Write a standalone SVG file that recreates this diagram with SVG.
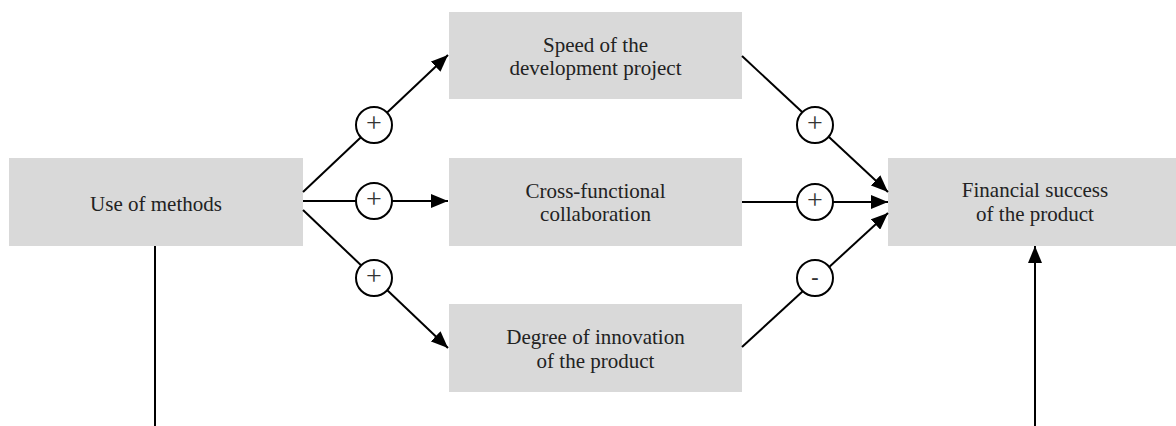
<svg xmlns="http://www.w3.org/2000/svg" width="1176" height="426" viewBox="0 0 1176 426">
  <style>
    .box { fill: #d9d9d9; }
    .lbl { font-family: "Liberation Serif", "Times New Roman", serif; font-size: 21px; fill: #222; text-anchor: middle; }
    .edge { stroke: #000; stroke-width: 2; fill: none; }
    .sign { fill: #fff; stroke: #000; stroke-width: 2; }
    .sym { font-family: "Liberation Serif", "Times New Roman", serif; fill: #333; text-anchor: middle; }
  </style>
  <defs>
    <marker id="arrow" markerUnits="userSpaceOnUse" markerWidth="17" markerHeight="14" refX="17" refY="7" orient="auto">
      <path d="M0,0 L17,7 L0,14 z" fill="#000"/>
    </marker>
  </defs>

  <g id="node-methods">
    <rect class="box" x="9" y="158" width="294" height="88"/>
    <text class="lbl" x="156" y="211">Use of methods</text>
  </g>
  <g id="node-speed">
    <rect class="box" x="449" y="12" width="293" height="87"/>
    <text class="lbl" x="595.5" y="52">Speed of the</text>
    <text class="lbl" x="595.5" y="75">development project</text>
  </g>
  <g id="node-collab">
    <rect class="box" x="449" y="158" width="293" height="88"/>
    <text class="lbl" x="595.5" y="198">Cross-functional</text>
    <text class="lbl" x="595.5" y="221">collaboration</text>
  </g>
  <g id="node-innovation">
    <rect class="box" x="449" y="304" width="293" height="88"/>
    <text class="lbl" x="595.5" y="344">Degree of innovation</text>
    <text class="lbl" x="595.5" y="368">of the product</text>
  </g>
  <g id="node-success">
    <rect class="box" x="888" y="158" width="294" height="88"/>
    <text class="lbl" x="1035" y="197">Financial success</text>
    <text class="lbl" x="1035" y="221">of the product</text>
  </g>

  <g id="connectors">
    <line class="edge" x1="303" y1="192" x2="448" y2="55" marker-end="url(#arrow)"/>
    <line class="edge" x1="303" y1="201" x2="448" y2="201" marker-end="url(#arrow)"/>
    <line class="edge" x1="303" y1="210" x2="448" y2="348" marker-end="url(#arrow)"/>
    <line class="edge" x1="742" y1="56" x2="888" y2="192" marker-end="url(#arrow)"/>
    <line class="edge" x1="742" y1="202" x2="888" y2="202" marker-end="url(#arrow)"/>
    <line class="edge" x1="742" y1="347" x2="888" y2="213" marker-end="url(#arrow)"/>
    <line class="edge" x1="155" y1="246" x2="155" y2="426"/>
    <line class="edge" x1="1035" y1="426" x2="1035" y2="246" marker-end="url(#arrow)"/>

    <g id="sign-l1"><circle class="sign" cx="374" cy="125" r="18"/><text class="sym" x="374" y="132" font-size="28">+</text></g>
    <g id="sign-l2"><circle class="sign" cx="374" cy="201" r="18"/><text class="sym" x="374" y="208" font-size="28">+</text></g>
    <g id="sign-l3"><circle class="sign" cx="374" cy="278" r="18"/><text class="sym" x="374" y="285" font-size="28">+</text></g>
    <g id="sign-r1"><circle class="sign" cx="815" cy="125" r="18"/><text class="sym" x="815" y="132" font-size="28">+</text></g>
    <g id="sign-r2"><circle class="sign" cx="815" cy="202" r="18"/><text class="sym" x="815" y="209" font-size="28">+</text></g>
    <g id="sign-r3"><circle class="sign" cx="815" cy="278" r="18"/><text class="sym" x="815" y="284" font-size="22" font-weight="bold">-</text></g>
  </g>
</svg>
